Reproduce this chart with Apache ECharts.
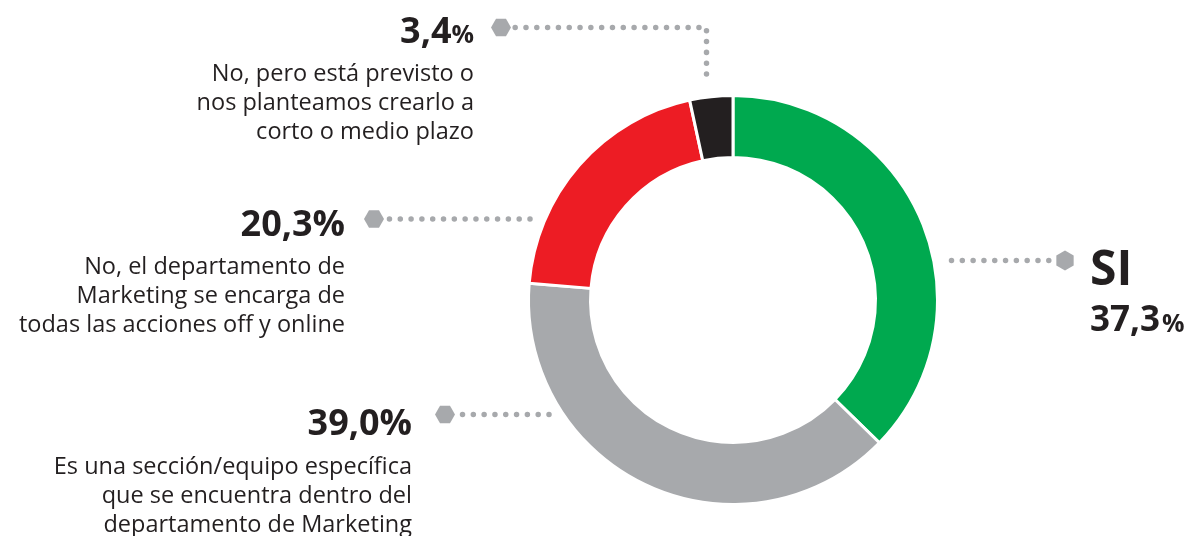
<!DOCTYPE html>
<html>
<head>
<meta charset="utf-8">
<script src="https://cdn.jsdelivr.net/npm/echarts@6/dist/echarts.min.js"></script>
<style>
  html, body { margin: 0; padding: 0; background: #fff; }
</style>
</head>
<body>
<div id="main" style="width:1195px;height:536px;"></div>
<script>

var categories = ['SI', '39', '20', '3'];
var values = [37.3, 39.0, 20.3, 3.4];
var descriptions = [
    [],
    ['Es una sección/equipo específica', 'que se encuentra dentro del', 'departamento de Marketing'],
    ['No, el departamento de', 'Marketing se encarga de', 'todas las acciones off y online'],
    ['No, pero está previsto o', 'nos planteamos crearlo a', 'corto o medio plazo']
];
var colors = ['#00a94f', '#a7a9ac', '#ed1c24', '#231f20'];

// where each annotation sits (label box + dotted leader)
var spots = [
    { x: 1090, y: 244.5, align: 'left', line: [[951.5, 260.5], [1003, 260.5], [1054, 260.5]], hex: [1065, 260.5, 90] },
    { x: 412, y: 397.5, align: 'right', line: [[549, 414.5], [505, 414.5], [461, 414.5]], hex: [445, 414.5, 0] },
    { x: 345, y: 198, align: 'right', line: [[530, 219], [460, 219], [389, 219]], hex: [374, 219, 0] },
    { x: 474, y: 5.2, align: 'right', line: [[706.5, 74], [706.5, 27.5], [515, 27.5]], hex: [501, 27.5, 0] }
];

function fmt(v) {
    return v.toFixed(1).replace('.', ',');
}

function hexagon(cx, cy, r, rot) {
    var pts = [];
    for (var i = 0; i < 6; i++) {
        var a = (rot + i * 60) * Math.PI / 180;
        pts.push([cx + r * Math.cos(a), cy + r * Math.sin(a)]);
    }
    return pts;
}

var pieData = values.map(function (v, i) {
    return { name: categories[i], value: v, itemStyle: { color: colors[i] } };
});

var chartDom = document.getElementById('main');
var myChart = echarts.init(chartDom);

var option = {
    animation: false,
    graphic: spots.map(function (s) {
        return {
            type: 'polygon',
            silent: true,
            shape: { points: hexagon(s.hex[0], s.hex[1], 10, s.hex[2]) },
            style: { fill: '#a7a9ac' },
            z: 10
        };
    }),
    series: [{
        type: 'pie',
        center: [733, 300],
        radius: [142.5, 204.5],
        startAngle: 90,
        clockwise: true,
        avoidLabelOverlap: false,
        emphasis: { disabled: true },
        itemStyle: { borderColor: '#fff', borderWidth: 3 },
        data: pieData,
        label: {
            show: true,
            position: 'outside',
            fontFamily: 'Open Sans',
            color: '#231f20',
            formatter: function (p) {
                var i = p.dataIndex;
                var txt = fmt(values[i]);
                if (i === 0) {
                    return '{si|' + categories[i] + '}\n{num2|' + txt + '}{pct2|%}';
                }
                var head = i === 3 ? '{num|' + txt + '}{pctS|%}' : '{num|' + txt + '%}';
                return head + '\n' + descriptions[i].map(function (d) {
                    return '{desc|' + d + '}';
                }).join('\n');
            },
            rich: {
                si: { fontFamily: 'Open Sans', fontWeight: 'bold', fontSize: 48, lineHeight: 54, color: '#231f20', align: 'left' },
                num2: { fontFamily: 'Open Sans', fontWeight: 'bold', fontSize: 35, lineHeight: 45, color: '#231f20', align: 'left' },
                pct2: { fontFamily: 'Open Sans', fontWeight: 'bold', fontSize: 25, padding: [7, 0, 0, 2], color: '#231f20', align: 'left' },
                num: { fontFamily: 'Open Sans', fontWeight: 'bold', fontSize: 36, lineHeight: 55, color: '#231f20', align: 'right' },
                pctS: { fontFamily: 'Open Sans', fontWeight: 'bold', fontSize: 25, padding: [7, 0, 0, 0], color: '#231f20', align: 'right' },
                desc: { fontFamily: 'Open Sans', fontSize: 23.5, lineHeight: 29, color: '#231f20', align: 'right' }
            }
        },
        labelLine: {
            show: true,
            lineStyle: { color: '#a7a9ac', width: 5.5, type: [0.01, 10.8], cap: 'round' }
        },
        labelLayout: function (params) {
            var s = spots[params.dataIndex];
            return {
                x: s.x,
                y: s.y,
                align: s.align,
                verticalAlign: 'top',
                labelLinePoints: s.line
            };
        }
    }]
};

myChart.setOption(option);

</script>
</body>
</html>
